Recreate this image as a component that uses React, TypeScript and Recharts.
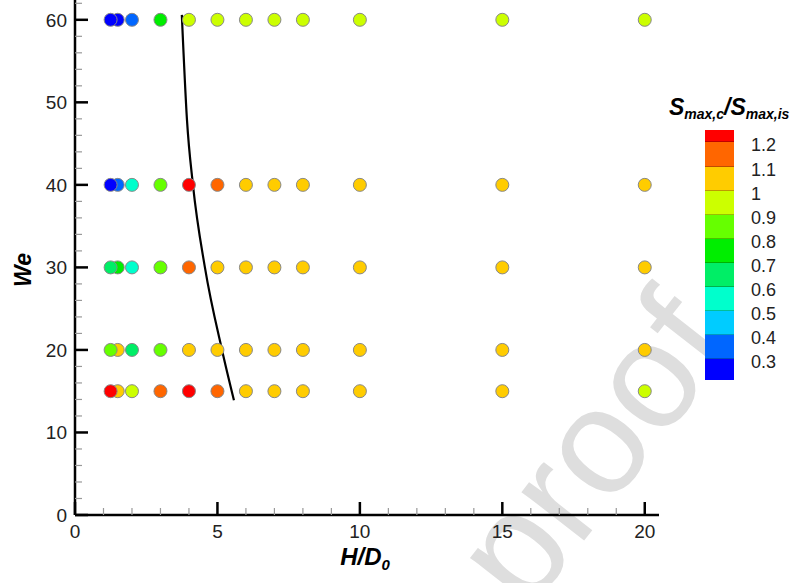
import { ComposedChart, XAxis, YAxis, Scatter, Line } from "recharts";

// H/D0 positions of the sampled cases
const hdValues = [1.25, 1.5, 2, 3, 4, 5, 6, 7, 8, 10, 15, 20];
// We levels (rows)
const weLevels = [15, 20, 30, 40, 60];

const ratioWe15 = [1.25, 1.05, 0.95, 1.15, 1.25, 1.15, 1.05, 1.05, 1.05, 1.05, 1.05, 0.95];
const ratioWe20 = [0.85, 1.05, 0.65, 0.85, 1.05, 1.05, 1.05, 1.05, 1.05, 1.05, 1.05, 1.05];
const ratioWe30 = [0.65, 0.75, 0.55, 0.85, 1.15, 1.05, 1.05, 1.05, 1.05, 1.05, 1.05, 1.05];
const ratioWe40 = [0.25, 0.35, 0.55, 0.85, 1.25, 1.15, 1.05, 1.05, 1.05, 1.05, 1.05, 1.05];
const ratioWe60 = [0.25, 0.25, 0.35, 0.75, 0.95, 0.95, 0.95, 0.95, 0.95, 0.95, 0.95, 0.95];
const ratioRows = [ratioWe15, ratioWe20, ratioWe30, ratioWe40, ratioWe60];

// black boundary curve
const curveHd = [3.75, 3.93, 4.14, 4.56, 5.16, 5.58];
const curveWe = [60.6, 47.9, 40, 30, 20, 13.9];

// colour scale
const levelLabels = ["1.2", "1.1", "1", "0.9", "0.8", "0.7", "0.6", "0.5", "0.4", "0.3"];
const levelCuts = [1.2, 1.1, 1.0, 0.9, 0.8, 0.7, 0.6, 0.5, 0.4, 0.3];
const levelColors = [
  "#ff0000", "#ff6600", "#ffcc00", "#ccff00", "#66ff00", "#00ee00",
  "#00ee66", "#00ffcc", "#00ccff", "#0066ff", "#0000ff",
];

const xTicks = Array.from({ length: 21 }, (_, i) => i);
const yTicks = Array.from({ length: 32 }, (_, i) => i * 2);

function colorFor(v: number) {
  for (let i = 0; i < levelCuts.length; i++) {
    if (v >= levelCuts[i]) return levelColors[i];
  }
  return levelColors[levelColors.length - 1];
}

// draw the smallest H/D0 last so it sits on top, like the original
const points: { x: number; y: number; v: number }[] = [];
weLevels.forEach((we, r) => {
  for (let j = hdValues.length - 1; j >= 0; j--) {
    points.push({ x: hdValues[j], y: we, v: ratioRows[r][j] });
  }
});

const curve = curveHd.map((x, i) => ({ x, y: curveWe[i] }));

const bandHeights = [12, 25, 24, 24, 24, 24, 24, 24, 24, 24, 21];

function XTick(props: any) {
  const { x, y, payload } = props;
  const major = payload.value % 5 === 0;
  return (
    <g>
      <line
        x1={x} y1={y} x2={x} y2={y - (major ? 13 : 7)}
        stroke={major ? "#000" : "#999"} strokeWidth={major ? 2.5 : 1.2}
      />
      {major && (
        <text x={x} y={y + 23} textAnchor="middle" fontSize={19} fill="#222">
          {payload.value}
        </text>
      )}
    </g>
  );
}

function YTick(props: any) {
  const { x, y, payload } = props;
  const major = payload.value % 10 === 0;
  return (
    <g>
      <line
        x1={x} y1={y} x2={x + (major ? 13 : 7)} y2={y}
        stroke={major ? "#000" : "#999"} strokeWidth={major ? 2.5 : 1.2}
      />
      {major && (
        <text x={x - 8} y={y + 7} textAnchor="end" fontSize={19} fill="#222">
          {payload.value}
        </text>
      )}
    </g>
  );
}

function Marker(props: any) {
  const { cx, cy, payload } = props;
  return <circle cx={cx} cy={cy} r={6.5} fill={colorFor(payload.v)} stroke="#888" strokeWidth={1} />;
}

export default function App() {
  let acc = 130;
  const bands = bandHeights.map((h, i) => {
    const top = acc;
    acc += h;
    return { top, h, color: levelColors[i] };
  });

  return (
    <div
      style={{
        position: "fixed", left: 0, top: 0, width: 791, height: 583,
        background: "#fff", fontFamily: "'Liberation Sans', Arial, sans-serif",
        overflow: "hidden",
      }}
    >
      <svg width={791} height={583} style={{ position: "absolute", left: 0, top: 0 }}>
        <text
          x={737} y={345} textAnchor="end" fontSize={150} fill="#dedede"
          transform="rotate(-52 737 345)"
        >
          Journal Pre-proof
        </text>
      </svg>

      <div style={{ position: "absolute", left: 0, top: 0 }}>
        <ComposedChart
          width={791} height={583}
          margin={{ top: 0, right: 132, bottom: 67, left: 74 }}
        >
          <XAxis
            type="number" dataKey="x" domain={[0, 20.5]} ticks={xTicks} interval={0}
            height={1} tickSize={0} tickMargin={0} tickLine={false}
            axisLine={{ stroke: "#000", strokeWidth: 2.5 }}
            tick={(p: any) => <XTick {...p} />}
            allowDataOverflow
          />
          <YAxis
            type="number" dataKey="y" domain={[0, 62.4]} ticks={yTicks} interval={0}
            width={1} tickSize={0} tickMargin={0} tickLine={false}
            axisLine={{ stroke: "#000", strokeWidth: 2.5 }}
            tick={(p: any) => <YTick {...p} />}
            allowDataOverflow
          />
          <Line
            data={curve} dataKey="y" type="monotone" stroke="#000" strokeWidth={2.2}
            dot={false} activeDot={false} isAnimationActive={false}
          />
          <Scatter data={points} dataKey="y" shape={(p: any) => <Marker {...p} />} isAnimationActive={false} />
        </ComposedChart>
      </div>

      <div
        style={{
          position: "absolute", left: 13, top: 270, width: 20, height: 0,
        }}
      >
        <div
          style={{
            position: "absolute", left: -20, top: -14, width: 60, textAlign: "center",
            transform: "rotate(-90deg)", fontSize: 23, fontWeight: "bold", fontStyle: "italic",
            color: "#000", lineHeight: "28px",
          }}
        >
          We
        </div>
      </div>

      <div
        style={{
          position: "absolute", left: 300, top: 543, width: 130, textAlign: "center",
          fontSize: 24, fontWeight: "bold", fontStyle: "italic", color: "#000", lineHeight: "28px",
        }}
      >
        H/D<sub style={{ fontSize: 15, verticalAlign: -5, lineHeight: "15px" }}>0</sub>
      </div>

      <div
        style={{
          position: "absolute", left: 669, top: 94, whiteSpace: "nowrap",
          fontSize: 23, fontWeight: "bold", fontStyle: "italic", color: "#000", lineHeight: "26px",
        }}
      >
        S<sub style={{ fontSize: 14, verticalAlign: -4, lineHeight: "14px" }}>max,c</sub>
        <span>/</span>S
        <sub style={{ fontSize: 14, verticalAlign: -4, lineHeight: "14px" }}>max,is</sub>
      </div>

      {bands.map((b, i) => (
        <div
          key={i}
          style={{
            position: "absolute", left: 705, top: b.top, width: 29, height: b.h,
            background: b.color, boxSizing: "border-box",
            borderBottom: i < bands.length - 1 ? "1px solid rgba(0,0,0,0.25)" : "none",
          }}
        />
      ))}
      {levelLabels.map((t, i) => (
        <div
          key={t}
          style={{
            position: "absolute", left: 751, top: bands[i + 1].top + 3 - 11,
            fontSize: 18, lineHeight: "22px", color: "#222",
          }}
        >
          {t}
        </div>
      ))}
    </div>
  );
}
